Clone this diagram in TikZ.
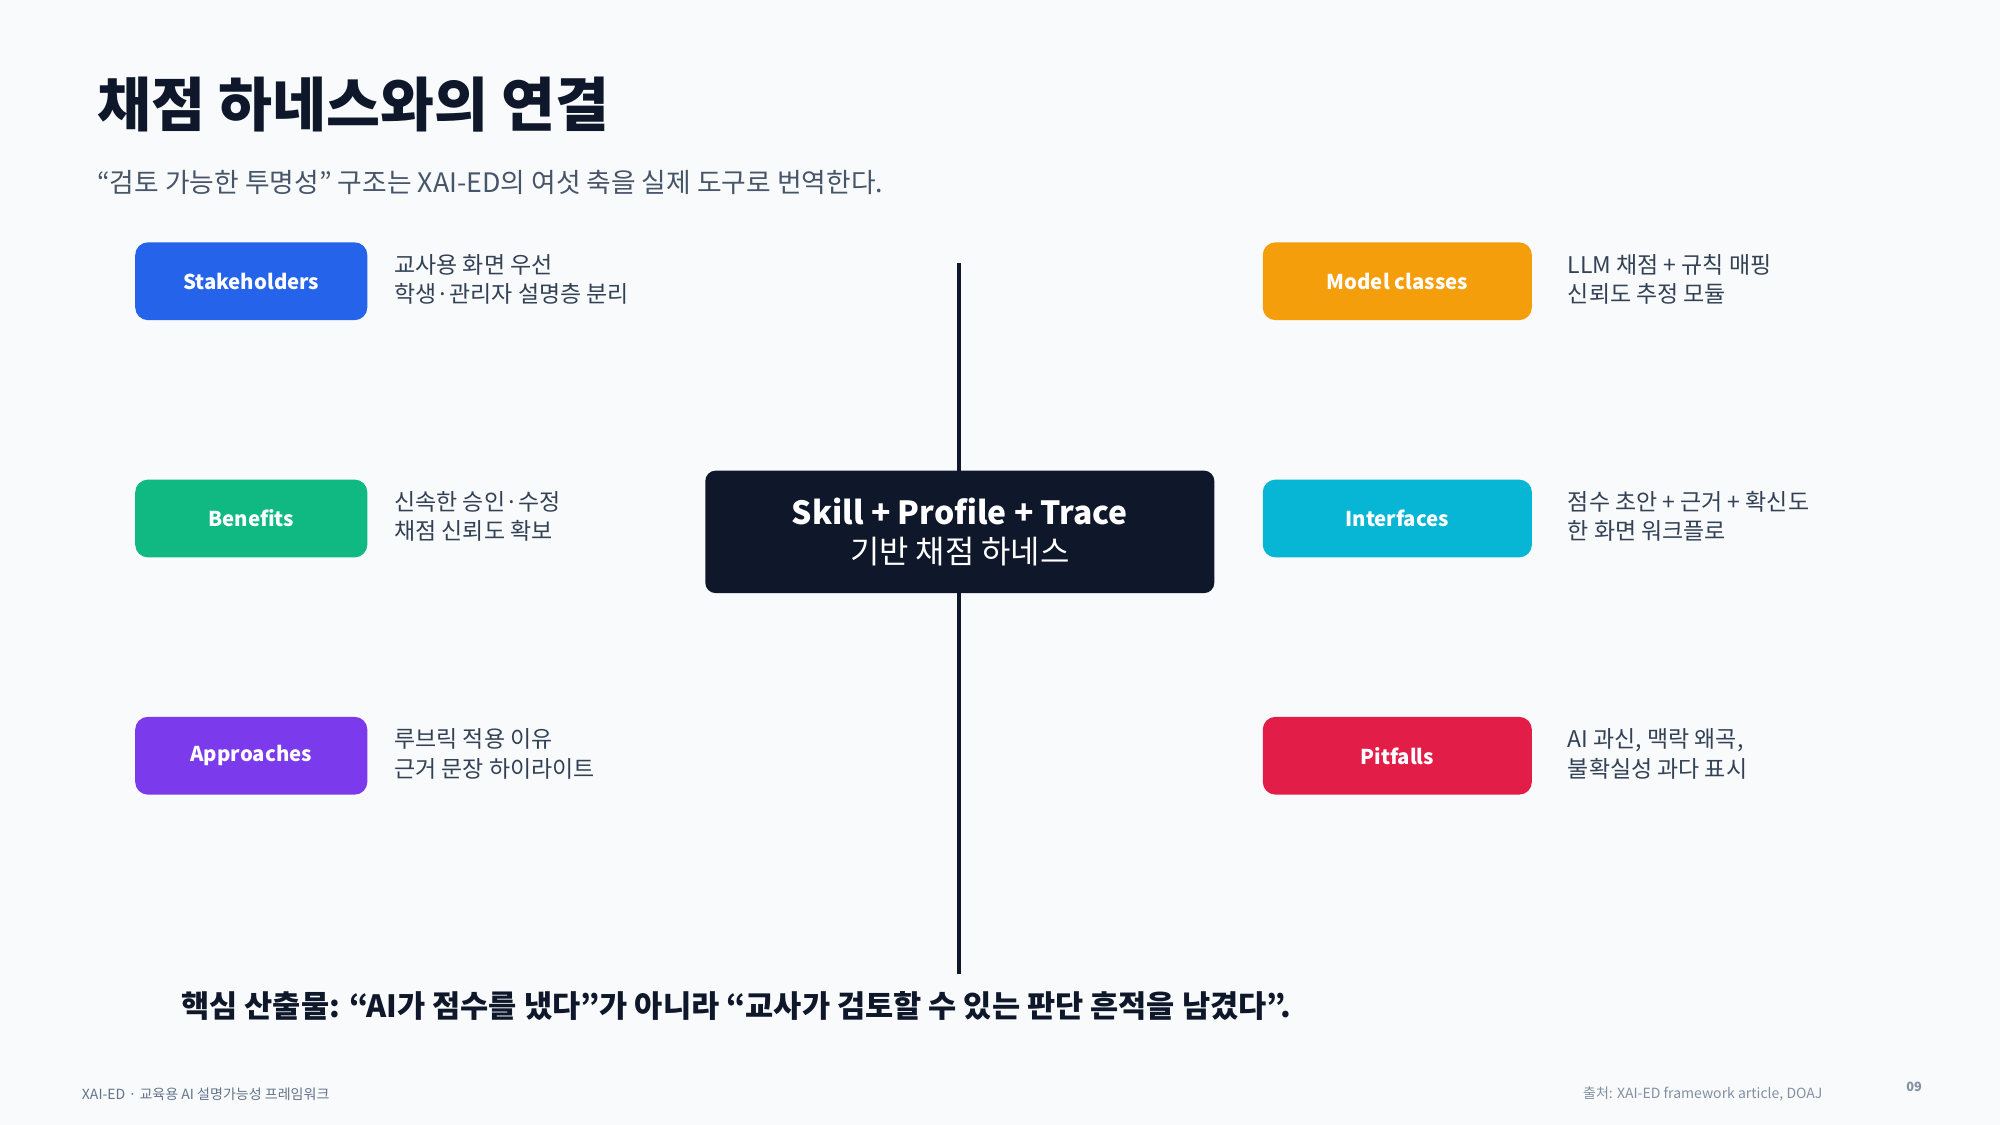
\documentclass[tikz,border=0pt]{standalone}
\usepackage{fontspec}
\setmainfont{Noto Sans CJK KR}
\begin{document}
\begin{tikzpicture}[x=1pt,y=-1pt,
  cat/.style={rounded corners=10pt,minimum width=182pt,minimum height=61pt,text=white,font=\fontsize{16}{18}\selectfont\bfseries,inner sep=0pt},
  desc/.style={anchor=west,align=left,text=txt,font=\fontsize{18}{23}\selectfont,inner sep=0pt},
  rcat/.style={cat,minimum width=211pt}]
\definecolor{bg}{HTML}{F8FAFC}
\definecolor{ink}{HTML}{0F172A}
\definecolor{txt}{HTML}{334155}
\definecolor{sub}{HTML}{475569}
\definecolor{foot}{HTML}{64748B}
\definecolor{cblue}{HTML}{2563EB}
\definecolor{cgreen}{HTML}{10B981}
\definecolor{cpurple}{HTML}{7C3AED}
\definecolor{corange}{HTML}{F59E0B}
\definecolor{ccyan}{HTML}{06B6D4}
\definecolor{cred}{HTML}{E11D48}
\fill[bg] (0,0) rectangle (1568,882);
\useasboundingbox (0,0) rectangle (1568,882);
\node[anchor=base west,inner sep=0pt,text=ink,font=\fontsize{46}{50}\selectfont\bfseries] (title) at (76,99) {채점 하네스와의 연결};
\node[anchor=west,inner sep=0pt,text=sub,font=\fontsize{21}{24}\selectfont] (subt) at (76,143) {“검토 가능한 투명성” 구조는 XAI-ED의 여섯 축을 실제 도구로 번역한다.};
\coordinate (ltop) at (752,206);
\coordinate (lbot) at (752,764);
\draw[ink,line width=3pt] (ltop) -- (lbot);
\node[fill=ink,rounded corners=8pt,minimum width=399pt,minimum height=96pt,align=center,text=white,font=\fontsize{25}{30}\selectfont\bfseries] (hub) at (752.5,417) {Skill + Profile + Trace\\{\mdseries 기반 채점 하네스}};
\node[cat,fill=cblue] (s) at (197,220.5) {Stakeholders};
\node[cat,fill=cgreen] (b) at (197,406.5) {Benefits};
\node[cat,fill=cpurple] (a) at (197,592.5) {Approaches};
\node[desc] (sd) at (309,219) {교사용 화면 우선\\학생·관리자 설명층 분리};
\node[desc] (bd) at (309,405) {신속한 승인·수정\\채점 신뢰도 확보};
\node[desc] (ad) at (309,591) {루브릭 적용 이유\\근거 문장 하이라이트};
\node[rcat,fill=corange] (m) at (1095.5,220.5) {Model classes};
\node[rcat,fill=ccyan] (i) at (1095.5,406.5) {Interfaces};
\node[rcat,fill=cred] (p) at (1095.5,592.5) {Pitfalls};
\node[desc] (md) at (1229,219) {LLM 채점 + 규칙 매핑\\신뢰도 추정 모듈};
\node[desc] (id) at (1229,405) {점수 초안 + 근거 + 확신도\\한 화면 워크플로};
\node[desc] (pd) at (1229,591) {AI 과신, 맥락 왜곡,\\불확실성 과다 표시};
\node[anchor=west,inner sep=0pt,text=ink,font=\fontsize{24}{28}\selectfont\bfseries] (key) at (142,789) {핵심 산출물: “AI가 점수를 냈다”가 아니라 “교사가 검토할 수 있는 판단 흔적을 남겼다”.};
\node[anchor=west,inner sep=0pt,text=foot,font=\fontsize{11}{13}\selectfont] (fl) at (64,858) {XAI-ED · 교육용 AI 설명가능성 프레임워크};
\node[anchor=east,inner sep=0pt,text=foot!80,font=\fontsize{11}{13}\selectfont] (fr) at (1429,858) {출처: XAI-ED framework article, DOAJ};
\node[anchor=east,inner sep=0pt,text=foot!80,font=\fontsize{10}{12}\selectfont\bfseries] (pg) at (1507,852) {09};
\end{tikzpicture}
\end{document}
